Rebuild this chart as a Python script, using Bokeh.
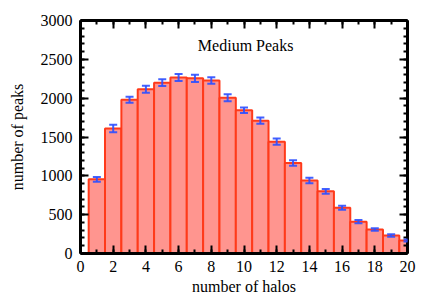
from bokeh.plotting import figure
from bokeh.models import ColumnDataSource, Whisker, FixedTicker, LinearAxis, Range1d, Label, CustomJSTickFormatter
from bokeh.embed import file_html
from bokeh.resources import INLINE

halos = [1, 2, 3, 4, 5, 6, 7, 8, 9, 10, 11, 12, 13, 14, 15, 16, 17, 18, 19, 20]
peaks = [955, 1610, 1980, 2115, 2200, 2265, 2255, 2228, 2005, 1845, 1710, 1440, 1165, 940, 800, 590, 410, 310, 232, 168]
errors = [30, 48, 38, 44, 42, 45, 46, 42, 44, 36, 40, 40, 36, 34, 32, 26, 20, 16, 15, 12]
x_ticks = [0, 2, 4, 6, 8, 10, 12, 14, 16, 18, 20]
y_ticks = [0, 500, 1000, 1500, 2000, 2500, 3000]
title_text = "Medium Peaks"

src = ColumnDataSource(dict(
    x=halos, top=peaks,
    upper=[p + e for p, e in zip(peaks, errors)],
    lower=[p - e for p, e in zip(peaks, errors)],
))

FONT = "Liberation Serif"
BLUE = "#2f50ff"

p = figure(width=428, height=297, output_backend="svg", toolbar_location=None,
           x_range=Range1d(0, 20), y_range=Range1d(0, 3000),
           min_border_left=80, min_border_right=21, min_border_top=20, min_border_bottom=44,
           x_axis_label="number of halos", y_axis_label="number of peaks")
p.grid.visible = False
p.outline_line_color = None

p.vbar(x="x", top="top", width=1, bottom=0, source=src,
       fill_color="#ff958f", line_color="#ff3a1a", line_width=2)

w = Whisker(base="x", upper="upper", lower="lower", source=src,
            line_color=BLUE, line_width=2, line_alpha=0.9, level="overlay")
for h in (w.upper_head, w.lower_head):
    h.size = 8
    h.line_color = BLUE
    h.line_width = 2
    h.line_alpha = 0.9
p.add_layout(w)

xt = FixedTicker(ticks=x_ticks, minor_ticks=list(range(0, 21)))
yt = FixedTicker(ticks=y_ticks, minor_ticks=list(range(0, 3001, 100)))

def style(ax):
    ax.axis_line_width = 3
    ax.axis_line_color = "black"
    ax.major_tick_in = 8
    ax.major_tick_out = 0
    ax.minor_tick_in = 4
    ax.minor_tick_out = 0
    ax.major_tick_line_width = 2
    ax.minor_tick_line_width = 2
    ax.major_tick_line_color = "black"
    ax.minor_tick_line_color = "black"
    ax.major_label_text_font = FONT
    ax.major_label_text_font_size = "16px"
    ax.major_label_text_color = "black"
    ax.axis_label_text_font = FONT
    ax.axis_label_text_font_size = "16px"
    ax.axis_label_text_font_style = "normal"
    ax.axis_label_text_color = "black"

xa = p.xaxis[0]
xa.ticker = xt
style(xa)
xa.major_label_standoff = 7
xa.axis_label_standoff = 3

ya = p.yaxis[0]
ya.ticker = yt
style(ya)
ya.major_label_standoff = 8
ya.axis_label_standoff = 12

blank = CustomJSTickFormatter(code="return ''")
top_ax = LinearAxis(ticker=xt, formatter=blank)
style(top_ax)
top_ax.major_label_standoff = 0
p.add_layout(top_ax, "above")
right_ax = LinearAxis(ticker=yt, formatter=blank)
style(right_ax)
right_ax.major_label_standoff = 0
p.add_layout(right_ax, "right")

p.add_layout(Label(x=10.1, y=2680, text=title_text, text_align="center", text_baseline="middle",
                   text_font=FONT, text_font_size="16px", text_color="black"))

open("out.html", "w").write(file_html(p, INLINE))
